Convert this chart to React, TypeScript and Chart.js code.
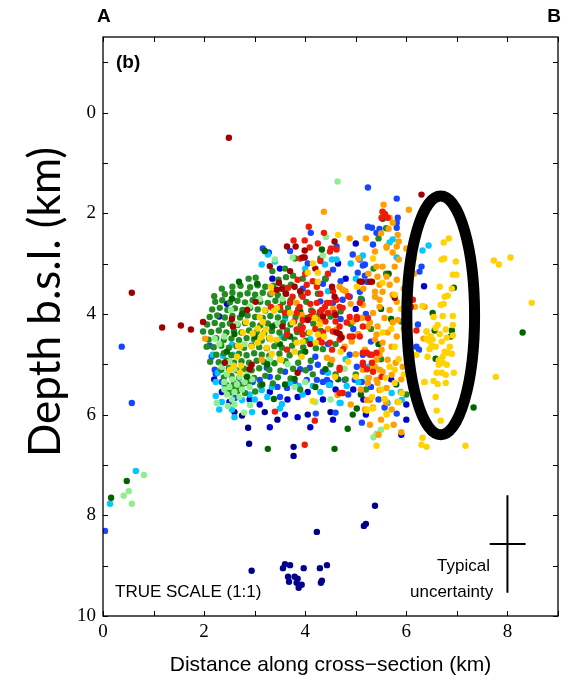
import { useEffect, useRef } from 'react';
import { Chart, registerables } from 'chart.js';

Chart.register(...registerables);

// Axis ticks (km)
const xTicks = [0, 1, 2, 3, 4, 5, 6, 7, 8, 9];
const yTicks = [-1, 0, 1, 2, 3, 4, 5, 6, 7, 8, 9, 10];

// Highlight ellipse (center x, center y, half-width, half-height in km)
const ellipse = [6.68, 4.03, 0.67, 2.37];
// Typical uncertainty cross: [x, y, x-min, x-max, y-min, y-max]
const uncertainty = [8.0, 8.57, 7.65, 8.36, 7.6, 9.54];

// Hypocentres: [distance km, depth km]
const gold = [
  [6.74,2.58],[6.84,2.50],[6.70,2.92],[6.75,2.90],[6.98,2.96],[6.92,3.22],[6.99,3.22],[6.66,3.46],[6.90,3.50],[6.82,3.64],
  [6.76,3.66],[6.74,3.80],[6.68,3.82],[6.54,4.06],[6.72,4.04],[6.92,4.04],[6.62,4.22],[6.92,4.22],[6.40,4.35],[6.66,4.40],
  [6.78,4.31],[6.48,4.45],[6.52,4.51],[6.44,4.53],[6.70,4.55],[6.86,4.65],[6.50,4.63],[6.58,4.65],[6.76,4.75],[6.82,4.77],
  [6.90,4.79],[6.42,4.85],[6.72,4.85],[6.64,5.01],[6.72,4.97],[6.80,5.01],[6.60,5.17],[6.70,5.17],[6.78,5.21],[6.94,5.17],
  [6.54,5.33],[6.62,5.39],[6.78,5.37],[6.36,5.35],[6.58,5.65],[6.60,5.92],[6.68,6.12],[6.32,6.46],[6.30,6.60],[6.40,6.64],
  [7.17,6.62],[7.77,5.25],[8.48,3.78],[7.73,2.94],[7.83,3.02],[8.06,2.88],[5.41,6.62],[5.22,5.92],[5.34,5.88],[5.57,5.69],
  [5.61,5.98],[5.61,6.24],[6.92,4.43],[6.80,4.47],[6.58,4.28],[6.46,4.70],[6.64,4.92],
  [3.10,4.06],[3.16,4.16],[3.06,4.29],[3.22,4.31],[3.12,4.47],[3.32,4.51],[3.38,3.94],[3.44,3.88],[2.96,4.39],[2.77,4.37],
  [2.71,4.65],[3.24,4.67],[3.34,4.79],[3.50,4.91],[4.15,3.00],[4.05,3.18],[4.25,3.18],[4.29,4.21],[4.09,4.37],[4.21,4.57],
  [2.83,4.16],[2.67,4.63],[2.59,5.03],[2.51,5.11],[2.73,5.03],[2.71,5.17],[2.94,4.65],[3.20,3.92],[3.32,3.46],[3.70,3.98],
  [3.75,4.17],[3.16,4.41],[3.06,4.57],[3.30,4.47],[3.44,4.51],[3.83,4.57],[3.95,4.55],[4.25,4.41],[4.37,4.45],[3.93,4.85],
  [3.79,4.75],[2.65,4.85],[3.52,4.91],[4.19,4.08],[4.59,5.25],[4.15,5.73],
  [5.53,4.37],[5.77,4.65],[5.67,5.05],[5.77,5.11],[5.59,5.27],[5.77,5.37],[5.32,5.65],[5.22,5.90],[5.61,6.00],[6.36,5.35],
  [6.40,4.35],[6.32,3.84],[6.40,4.49],[6.20,4.81],[5.91,5.57],[5.53,3.38],[5.77,3.62],[5.02,3.46],[4.65,2.43],[5.34,2.90],
  [4.25,3.36],[5.85,4.90],[5.95,5.20],[5.70,4.30],[6.05,4.60],[5.90,3.90],[6.10,5.40],[5.50,5.50],[5.85,5.75],[6.00,3.30],
  [6.15,2.90],[4.85,4.95],[5.00,5.25],[4.70,4.75]
];

const darkRed = [
  [2.49,0.50],[0.57,3.58],[1.17,4.27],[1.54,4.23],[1.74,4.31],[1.98,4.16],[2.41,4.97],[2.57,4.25],[2.55,4.10],[2.85,3.92],
  [3.02,3.76],[3.64,2.66],[3.81,2.66],[3.99,2.88],[3.48,3.38],[3.44,3.52],[3.54,3.50],[3.62,3.60],[4.05,4.12],[3.99,2.74],
  [4.58,2.56],[3.79,3.46],[4.58,3.66],[5.08,3.36],[5.28,3.36],[2.94,5.01],[2.90,5.10],[3.85,5.17],[4.62,4.37],[4.68,4.40],
  [4.53,3.46],[4.72,4.47],[5.77,3.68],[5.32,3.36],[4.60,4.02],[6.30,1.63],[3.95,2.88],[5.12,3.36],[3.30,3.05],[3.70,3.15],
  [4.20,3.10],[3.90,3.55],[4.35,4.05],[3.55,4.25],[4.10,4.60]
];

const red = [
  [4.07,2.27],[3.77,2.54],[3.99,2.54],[4.25,2.60],[4.37,2.39],[4.09,2.68],[4.49,2.76],[4.62,2.72],[5.53,1.97],[5.58,2.02],
  [5.63,2.09],[3.95,3.66],[4.05,3.58],[4.23,3.78],[3.89,3.86],[4.39,3.86],[4.49,3.78],[4.62,3.72],[4.74,3.88],[4.88,4.06],
  [4.58,3.98],[4.45,3.98],[4.33,3.92],[4.15,3.96],[4.09,4.06],[3.95,4.12],[3.83,3.98],[3.70,3.78],[3.75,3.66],[3.66,3.48],
  [4.03,3.42],[4.23,3.46],[3.85,3.32],[3.32,3.86],[3.50,3.86],[3.60,3.98],[4.68,4.25],[4.82,4.17],[5.02,4.06],[5.14,4.25],
  [5.08,4.45],[4.88,4.45],[4.68,4.51],[4.49,4.57],[5.14,4.77],[5.32,4.81],[5.14,5.01],[5.32,4.97],[4.35,4.37],[4.29,4.51],
  [3.64,4.41],[3.64,4.71],[3.95,4.27],[4.74,5.57],[3.40,5.94],[4.19,6.12],[3.99,6.60],[4.68,5.07],[5.22,5.10],[4.53,4.71],
  [4.33,4.57],[3.93,4.31],[4.29,3.96],[4.68,3.86],[3.83,4.31],[3.95,4.41],[4.68,5.57],[5.02,4.10],[5.24,4.08],[4.51,2.70],
  [6.13,3.72],[6.09,3.86],[6.20,4.33],[5.51,2.09],[5.08,3.78],[5.22,4.77],[5.41,4.77],[5.34,5.15],[6.07,3.88],[4.94,4.45],
  [5.28,4.81],[5.14,4.97],[5.51,5.25],[4.68,5.11],[4.43,3.78],[4.00,3.20],[4.15,3.35],[4.30,3.60],[4.55,3.55],[4.10,3.80],
  [4.40,4.15],[4.20,4.30],[3.78,4.15],[4.60,4.15],[4.85,3.65],[4.75,4.70],[4.55,4.35],[4.30,2.95],[3.90,2.90],[4.45,3.20]
];

const orange = [
  [5.55,1.83],[5.53,1.97],[5.67,2.09],[5.73,2.19],[5.65,2.31],[6.05,1.93],[5.85,2.56],[5.61,2.66],[5.73,2.78],[5.38,2.76],
  [5.85,2.92],[5.41,3.06],[5.53,3.06],[5.77,3.06],[5.43,3.26],[5.61,3.26],[5.81,3.32],[5.47,3.42],[5.67,3.42],[5.53,3.56],
  [5.73,3.62],[5.38,3.66],[5.81,3.76],[5.47,3.86],[5.67,3.92],[5.34,3.98],[5.57,4.08],[5.73,4.17],[5.43,4.25],[5.63,4.37],
  [5.81,4.45],[5.38,4.51],[5.53,4.57],[5.71,4.65],[5.47,4.81],[5.63,4.91],[5.79,4.97],[5.38,5.05],[5.53,5.15],[5.71,5.21],
  [5.43,5.37],[5.61,5.47],[5.22,5.71],[5.34,5.86],[5.28,6.20],[6.36,3.86],[6.17,3.86],[6.34,4.49],[5.14,3.82],[5.12,4.08],
  [5.24,4.25],[5.18,4.71],[5.14,5.11],[5.26,5.27],[4.74,3.52],[4.68,3.46],[5.38,3.56],[5.47,3.72],[5.28,4.17],[4.62,4.31],
  [4.72,4.45],[5.41,4.91],[5.47,5.11],[5.24,5.37],[5.47,5.51],[5.28,5.71],[5.83,5.75],[5.71,5.90],[5.93,5.05],[5.83,4.12],
  [4.80,3.55],[5.41,4.41],[5.51,4.71],[5.34,5.05],[5.41,5.31],[5.18,5.90],[4.64,5.61],[4.74,5.57],[4.78,4.65],[4.92,4.55],
  [4.53,4.91],[4.43,4.87],[4.29,4.12],[4.15,4.02],[3.83,3.78],[3.34,3.58],[3.14,4.91],[3.93,4.02],[2.02,4.49],[4.37,1.97],
  [4.88,2.50],[5.83,2.43],[5.81,2.66],[5.61,2.68],[5.95,3.50],[6.00,4.00],[5.95,4.30],[6.05,4.80],[5.90,5.30],[6.10,5.00],
  [5.25,3.20],[5.15,3.50],[5.05,4.40],[5.00,4.80],[5.10,5.50],[5.60,5.75],[5.50,6.10],[5.75,6.20],[5.45,6.40],[5.90,6.35],
  [4.90,5.80],[6.15,3.20],[6.20,5.60],[5.05,2.90],[5.20,2.50],[5.50,2.40],[6.00,2.70],[4.55,3.90],[4.45,4.30],[4.90,3.80],
  [4.95,4.15]
];

const darkGreen = [
  [2.69,3.36],[0.47,7.32],[0.16,7.65],[3.26,6.68],[4.58,6.68],[8.30,4.37],[7.33,5.86],[6.52,3.98],[6.56,4.33],[6.90,4.33],
  [6.88,4.45],[6.94,3.48],[6.58,4.89],[5.02,5.88],[4.94,6.00],[4.84,6.28],[3.38,5.69],[3.79,5.29],[4.33,2.72],[5.53,2.11],
  [3.20,2.75],[3.05,3.40],[2.75,4.00],[3.00,4.45],[2.60,4.40],[3.50,4.60],[3.25,5.00],[2.85,5.25],[3.70,4.45],[4.00,4.75],
  [4.40,5.10],[3.35,4.25],[3.90,3.95],[5.50,3.90],[5.70,4.10],[5.45,4.60],[5.80,5.40],[5.65,3.20],[4.65,5.30],[5.10,5.60],
  [4.20,5.45],[3.60,5.40],[2.45,4.75],[3.15,5.40],[2.55,3.70]
];

const lightGreen = [
  [0.41,7.61],[0.51,7.52],[0.57,7.77],[0.81,7.20],
  [2.45,5.20],[2.55,5.30],[2.50,5.45],[2.60,5.55],[2.45,5.60],[2.55,5.70],[2.65,5.40],[2.70,5.25],[2.75,5.50],[2.80,5.35],
  [2.60,5.10],[2.85,5.20],[2.90,5.45],[2.40,5.35],[2.35,5.05],[2.50,4.95],[2.95,5.30],[2.70,5.65],[2.40,5.50],[2.60,5.80],
  [2.53,3.92],[2.21,4.49],[2.25,5.77],[2.47,5.83],[2.79,5.96],[4.64,1.37],[4.41,2.47],[3.40,2.92],[3.75,2.88],[4.35,2.84],
  [3.10,3.70],[2.90,3.85],[2.65,4.20],[2.40,4.45],[3.45,4.20],[3.65,5.00],[4.00,5.35],[4.50,5.70],[4.20,5.75],[5.35,6.45],
  [5.50,6.30],[3.30,4.90],[3.55,3.70],[2.80,4.60],[2.30,4.60],[5.41,6.38],[2.91,5.81],[3.79,5.45],[5.22,5.27],[4.78,5.09]
];

const forestGreen = [
  [2.88,3.30],[3.02,3.28],[3.47,3.32],[3.62,3.27],[3.76,3.24],
  [2.56,3.46],[2.72,3.44],[2.91,3.47],[3.06,3.43],[3.21,3.46],[3.37,3.44],[3.56,3.47],[3.72,3.42],
  [2.41,3.61],[2.56,3.58],[2.71,3.62],[2.86,3.59],[3.01,3.62],[3.16,3.58],[3.31,3.61],[3.46,3.63],[3.61,3.59],[3.92,3.62],
  [2.22,3.76],[2.36,3.73],[2.51,3.77],[2.66,3.74],[2.81,3.77],[2.96,3.73],[3.11,3.76],[3.26,3.78],[3.41,3.74],[3.56,3.77],[3.71,3.73],[4.02,3.76],
  [2.16,3.91],[2.31,3.88],[2.46,3.92],[2.61,3.89],[2.76,3.92],[2.91,3.88],[3.06,3.91],[3.21,3.93],[3.36,3.89],[3.51,3.92],[3.66,3.88],[3.86,3.91],[4.12,3.93],
  [2.11,4.06],[2.26,4.03],[2.41,4.07],[2.56,4.04],[2.71,4.07],[2.86,4.03],[3.01,4.06],[3.16,4.08],[3.31,4.04],[3.46,4.07],[3.61,4.03],[3.81,4.06],[4.01,4.08],[4.26,4.04],
  [2.06,4.21],[2.21,4.18],[2.36,4.22],[2.51,4.19],[2.66,4.22],[2.81,4.18],[2.96,4.21],[3.11,4.23],[3.26,4.19],[3.41,4.22],[3.56,4.18],[3.71,4.21],[3.91,4.23],[4.16,4.19],
  [2.14,4.36],[2.29,4.33],[2.44,4.37],[2.59,4.34],[2.74,4.37],[2.89,4.33],[3.04,4.36],[3.19,4.38],[3.34,4.34],[3.49,4.37],[3.64,4.33],[3.84,4.36],[4.06,4.38],[4.31,4.34],
  [2.09,4.51],[2.24,4.48],[2.39,4.52],[2.54,4.49],[2.69,4.52],[2.84,4.48],[2.99,4.51],[3.14,4.53],[3.29,4.49],[3.44,4.52],[3.59,4.48],[3.79,4.51],[4.01,4.53],
  [2.19,4.66],[2.34,4.63],[2.49,4.67],[2.64,4.64],[2.79,4.67],[2.94,4.63],[3.09,4.66],[3.24,4.68],[3.39,4.64],[3.54,4.67],[3.74,4.63],[3.96,4.66],[4.21,4.68],
  [2.24,4.81],[2.39,4.78],[2.54,4.82],[2.69,4.79],[2.84,4.82],[2.99,4.78],[3.14,4.81],[3.29,4.83],[3.49,4.79],[3.69,4.82],[3.91,4.78],
  [2.29,4.96],[2.44,4.93],[2.59,4.97],[2.74,4.94],[2.89,4.97],[3.04,4.93],[3.19,4.96],[3.39,4.98],[3.61,4.94],[3.86,4.97],[4.11,4.93],
  [2.34,5.11],[2.49,5.08],[2.64,5.12],[2.79,5.09],[2.94,5.12],[3.09,5.08],[3.29,5.11],[3.51,5.13],[3.76,5.09],[4.01,5.12],
  [2.39,5.26],[2.54,5.23],[2.69,5.27],[2.84,5.24],[2.99,5.27],[3.21,5.23],[3.46,5.26],[3.71,5.28],
  [2.44,5.41],[2.59,5.38],[2.74,5.42],[2.89,5.39],[3.11,5.42],[3.36,5.38],
  [2.51,5.56],[2.66,5.53],[2.81,5.57],[3.01,5.54],
  [4.40,3.30],[4.60,4.60],[4.90,4.20],[5.10,3.70],[5.30,4.30],[5.50,4.90],[5.60,3.20],[5.45,2.50],[5.60,2.30],[4.15,5.20],
  [4.50,5.00],[3.90,5.50],[4.80,5.30],[5.20,5.50],[4.30,2.90],[3.80,2.90],[3.60,3.10],[2.43,5.51],[2.57,5.45],[2.85,5.37],
  [2.35,3.50],[2.20,3.65],[1.98,4.35],[2.05,4.65],[2.12,4.95],[3.35,3.15],[3.95,3.30],[4.25,3.60],[4.50,4.05],[4.70,3.95],
  [4.35,4.70],[4.60,5.20],[5.00,5.20],[5.35,3.10],[5.90,4.15],[6.00,5.60]
];

const cyan = [
  [0.65,7.12],[0.14,7.77],[2.27,5.17],[2.23,5.35],[2.23,5.63],[2.85,5.31],[2.75,5.71],[2.37,4.83],[2.55,4.61],[3.50,5.88],
  [3.70,5.37],[3.87,5.43],[4.15,5.43],[4.47,5.41],[4.82,5.43],[4.70,5.77],[3.54,5.79],[3.34,5.45],[3.14,5.51],[4.45,5.17],
  [4.49,5.41],[5.89,5.55],[5.63,5.77],[4.68,5.77],[4.53,2.92],[4.62,2.92],[4.39,3.02],[5.14,2.84],[5.08,2.90],[5.67,2.58],
  [5.73,2.52],[5.81,2.88],[6.32,2.74],[6.44,2.64],[5.91,5.71],[5.71,5.57],[3.14,3.02],[3.26,2.82],[3.40,2.96],[2.57,4.81],
  [2.17,4.81],[3.54,4.45],[2.35,5.75],[2.55,5.90],[2.90,5.60],[3.00,5.70],[3.25,5.65],[2.65,5.50],[2.40,5.40],[3.95,5.60],
  [4.30,5.55],[5.05,5.35],[5.25,5.05],[4.00,3.10],[4.45,3.55],[5.00,3.30],[4.90,3.00],[3.60,4.10],[4.10,4.50],[4.80,4.90],
  [2.30,5.90],[2.95,5.95],[2.60,6.05]
];

const blue = [
  [5.24,1.49],[3.16,2.70],[3.28,2.78],[4.11,2.39],[4.62,2.66],[4.94,2.82],[5.08,2.92],[5.18,3.02],[5.32,2.29],[5.24,2.27],
  [5.41,2.39],[5.34,2.62],[5.81,1.71],[5.83,2.09],[5.81,2.19],[4.55,3.12],[5.14,3.04],[5.04,3.18],[5.18,3.24],[5.22,3.36],
  [5.08,3.56],[4.88,3.66],[5.81,2.29],[5.47,2.31],[6.26,3.16],[6.30,3.06],[6.23,4.21],[6.25,4.71],[6.20,4.65],[5.81,5.98],
  [5.12,6.16],[5.57,5.86],[4.35,5.15],[4.43,5.31],[4.78,5.31],[5.12,5.35],[4.60,5.96],[6.11,3.18],[4.21,5.98],[3.50,5.65],
  [3.64,5.47],[3.79,5.37],[4.03,5.31],[4.23,5.31],[4.35,5.35],[4.49,5.37],[3.30,5.25],[3.10,5.31],[2.96,5.35],[2.61,5.67],
  [2.65,5.51],[3.24,5.07],[4.09,5.07],[4.25,5.01],[5.02,5.05],[4.98,5.31],[5.14,4.81],[4.88,4.81],[4.55,3.78],[4.74,3.72],
  [5.12,3.72],[5.08,3.36],[2.11,4.63],[2.15,4.85],[2.21,5.11],[2.23,5.19],[0.37,4.65],[0.57,5.77],[0.04,8.31],
  [3.95,3.50],[4.30,3.75],[4.45,4.60],[4.95,4.30],[5.30,4.55],[5.20,4.00],[4.70,4.10],[4.20,4.85],[3.60,5.15],[3.90,5.10],
  [2.70,5.40],[2.35,5.35],[3.45,5.45],[5.30,5.45],[5.45,5.70],[4.85,5.60],[4.70,3.35],[4.35,3.40],[4.05,3.00],[3.70,2.75]
];

const mediumBlue = [
  [3.65,5.70],[3.85,5.65],[4.05,5.55],[4.35,5.70],[2.90,5.70],[3.10,5.80],[3.30,5.55],[2.50,5.75],[2.35,5.55],[2.20,5.30],
  [4.60,5.50],[4.95,5.50],[5.15,5.70],[5.70,5.30],[6.00,5.80],[4.55,6.10],[3.60,6.00],[4.40,3.30],[4.80,3.30],[5.00,3.90],
  [4.65,3.00],[5.00,2.60],[3.35,3.30],[3.50,3.10],[2.45,3.80],[2.30,4.05],[6.35,3.45],[5.20,6.00],[4.10,6.25],[3.85,6.05],
  [3.30,6.25],[5.90,6.40],[6.00,6.10]
];

const navy = [
  [2.94,9.10],[3.56,9.05],[3.60,8.97],[3.70,8.99],[3.97,9.05],[3.66,9.22],[3.68,9.32],[3.79,9.22],[3.85,9.26],[3.83,9.34],
  [3.93,9.38],[3.87,9.44],[4.29,9.05],[4.43,8.99],[4.33,9.30],[4.31,9.34],[4.23,8.33],[5.16,8.21],[5.20,8.17],[5.38,7.81],
  [2.89,6.58],[3.77,6.64],[3.77,6.82],[2.75,6.02],[2.87,6.26],[3.20,5.95],[3.45,6.10],[4.05,6.00],[4.50,5.95],[2.60,5.95]
];

// Top-most series first
const seriesNames = ['gold', 'darkRed', 'red', 'orange', 'darkGreen', 'lightGreen', 'forestGreen', 'cyan', 'blue', 'mediumBlue', 'navy'];
const seriesData = [gold, darkRed, red, orange, darkGreen, lightGreen, forestGreen, cyan, blue, mediumBlue, navy];
const seriesColors = ['#FFD200', '#A00000', '#EE1A0A', '#FFA000', '#006400', '#90EE90', '#228B22', '#00C8FF', '#1446FF', '#0000CD', '#00008B'];

const overlayPlugin = {
  id: 'overlay',
  afterDatasetsDraw(chart: any) {
    const { ctx, chartArea, scales } = chart;
    const xs = scales.x;
    const ys = scales.y;
    const { left, right, top, bottom } = chartArea;
    ctx.save();

    // Ellipse
    const cx = xs.getPixelForValue(ellipse[0]);
    const cy = ys.getPixelForValue(ellipse[1]);
    const rx = Math.abs(xs.getPixelForValue(ellipse[0] + ellipse[2]) - cx);
    const ry = Math.abs(ys.getPixelForValue(ellipse[1] + ellipse[3]) - cy);
    ctx.beginPath();
    ctx.ellipse(cx, cy, rx, ry, 0, 0, Math.PI * 2);
    ctx.lineWidth = 11;
    ctx.strokeStyle = '#000';
    ctx.stroke();

    // Uncertainty cross
    ctx.lineWidth = 2;
    ctx.beginPath();
    ctx.moveTo(xs.getPixelForValue(uncertainty[0]), ys.getPixelForValue(uncertainty[4]));
    ctx.lineTo(xs.getPixelForValue(uncertainty[0]), ys.getPixelForValue(uncertainty[5]));
    ctx.moveTo(xs.getPixelForValue(uncertainty[2]), ys.getPixelForValue(uncertainty[1]));
    ctx.lineTo(xs.getPixelForValue(uncertainty[3]), ys.getPixelForValue(uncertainty[1]));
    ctx.stroke();

    // Frame
    ctx.lineWidth = 1.3;
    ctx.strokeRect(left, top, right - left, bottom - top);

    // Inward ticks on all four sides
    ctx.lineWidth = 1;
    ctx.beginPath();
    xTicks.forEach((v) => {
      const px = Math.round(xs.getPixelForValue(v)) + 0.5;
      ctx.moveTo(px, bottom);
      ctx.lineTo(px, bottom - 5);
      ctx.moveTo(px, top);
      ctx.lineTo(px, top + 5);
    });
    yTicks.forEach((v) => {
      const py = Math.round(ys.getPixelForValue(v)) + 0.5;
      ctx.moveTo(left, py);
      ctx.lineTo(left + 5, py);
      ctx.moveTo(right, py);
      ctx.lineTo(right - 5, py);
    });
    ctx.stroke();

    // Texts
    ctx.fillStyle = '#000';
    ctx.textBaseline = 'middle';
    ctx.textAlign = 'left';
    ctx.font = 'bold 19px "Liberation Sans", Arial, sans-serif';
    ctx.fillText('(b)', left + 13, top + 26);
    ctx.fillText('A', 97, 17);
    ctx.textAlign = 'right';
    ctx.fillText('B', 561, 17);

    ctx.textAlign = 'left';
    ctx.font = '17px "Liberation Sans", Arial, sans-serif';
    ctx.fillText('TRUE SCALE (1:1)', left + 12, bottom - 24);
    ctx.fillText('Typical', 437, bottom - 50);
    ctx.fillText('uncertainty', 410, bottom - 24);

    // Y-axis title
    ctx.save();
    ctx.translate(46, 302);
    ctx.rotate(-Math.PI / 2);
    ctx.textAlign = 'center';
    ctx.font = '44px Lato, "Liberation Sans", sans-serif';
    ctx.fillText('Depth b.s.l. (km)', 0, 0);
    ctx.restore();

    ctx.restore();
  },
};

export default function App() {
  const ref = useRef<HTMLCanvasElement>(null);

  useEffect(() => {
    const canvas = ref.current;
    if (!canvas) return;
    const chart = new Chart(canvas, {
      type: 'scatter',
      data: {
        datasets: seriesData.map((d, i) => ({
          label: seriesNames[i],
          data: d.map(([x, y]) => ({ x, y })),
          backgroundColor: seriesColors[i],
          borderWidth: 0,
          pointRadius: 3.2,
          pointHoverRadius: 3.2,
        })),
      },
      options: {
        animation: false,
        responsive: false,
        events: [],
        layout: { padding: { top: 37, right: 10, left: 0, bottom: 0 } },
        plugins: { legend: { display: false }, tooltip: { enabled: false } },
        scales: {
          x: {
            type: 'linear',
            position: 'bottom',
            min: 0,
            max: 9,
            afterBuildTicks: (s: any) => {
              s.ticks = xTicks.map((v) => ({ value: v }));
            },
            afterFit: (s: any) => {
              s.height = 64;
            },
            grid: { display: false, drawTicks: false },
            border: { display: false },
            ticks: {
              autoSkip: false,
              maxRotation: 0,
              padding: 5,
              color: '#000',
              font: { family: '"Liberation Serif", "Times New Roman", serif', size: 19 },
              callback: (v: any) => (Number(v) % 2 === 0 ? String(v) : ''),
            },
            title: {
              display: true,
              text: 'Distance along cross−section (km)',
              color: '#000',
              font: { family: '"Liberation Sans", Arial, sans-serif', size: 21 },
              padding: { top: 0, bottom: 2 },
            },
          },
          y: {
            type: 'linear',
            position: 'left',
            min: -1.5,
            max: 10,
            reverse: true,
            afterBuildTicks: (s: any) => {
              s.ticks = yTicks.map((v) => ({ value: v }));
            },
            afterFit: (s: any) => {
              s.width = 103;
            },
            grid: { display: false, drawTicks: false },
            border: { display: false },
            ticks: {
              autoSkip: false,
              padding: 7,
              color: '#000',
              font: { family: '"Liberation Serif", "Times New Roman", serif', size: 19 },
              callback: (v: any) => (Number(v) % 2 === 0 ? String(v) : ''),
            },
            title: { display: false },
          },
        },
      },
      plugins: [overlayPlugin],
    });
    return () => chart.destroy();
  }, []);

  return (
    <div style={{ position: 'absolute', left: 0, top: 0, width: 568, height: 680, background: '#fff' }}>
      <canvas ref={ref} width={568} height={680} style={{ display: 'block' }} />
    </div>
  );
}
